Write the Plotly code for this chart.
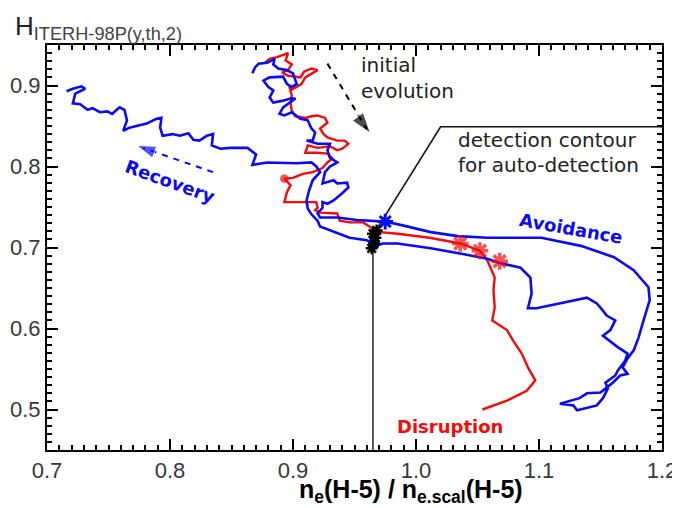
import plotly.graph_objects as go

# blue trajectory ("Avoidance" then "Recovery")
blue_x = [0.867, 0.869, 0.872, 0.879, 0.885, 0.884, 0.888, 0.895, 0.900, 0.903, 0.899, 0.895, 0.892, 0.881,
          0.876, 0.880, 0.884, 0.881, 0.884, 0.891, 0.898, 0.902, 0.892, 0.889, 0.893, 0.899, 0.906, 0.912,
          0.915, 0.918, 0.916, 0.911, 0.920, 0.930, 0.928, 0.930, 0.936, 0.930, 0.926, 0.924, 0.933, 0.936,
          0.944, 0.945, 0.940, 0.933, 0.928, 0.924, 0.924, 0.920, 0.922, 0.936, 0.952, 0.975, 0.990, 1.012,
          1.034, 1.058, 1.102, 1.134, 1.161, 1.177, 1.189, 1.190, 1.185, 1.181, 1.177, 1.172, 1.168, 1.172,
          1.166, 1.160, 1.155, 1.150, 1.139, 1.133, 1.117, 1.128, 1.131, 1.139, 1.147, 1.152, 1.156, 1.154,
          1.162, 1.164, 1.170, 1.172, 1.164, 1.152, 1.158, 1.162, 1.155, 1.152, 1.147, 1.139, 1.120, 1.098,
          1.091, 1.094, 1.093, 1.085, 1.068, 1.058, 1.038, 1.012, 0.985, 0.973, 0.969, 0.960, 0.946, 0.938,
          0.930, 0.922, 0.920, 0.915, 0.912, 0.911, 0.913, 0.916, 0.922, 0.919, 0.915, 0.903, 0.879, 0.867,
          0.870, 0.863, 0.849, 0.841, 0.834, 0.835, 0.830, 0.824, 0.819, 0.815, 0.808, 0.802, 0.794, 0.792,
          0.793, 0.789, 0.781, 0.776, 0.767, 0.762, 0.765, 0.763, 0.759, 0.753, 0.749, 0.743, 0.737, 0.733,
          0.727, 0.721, 0.723, 0.731, 0.728, 0.721, 0.716]
blue_y = [0.915, 0.922, 0.927, 0.928, 0.933, 0.926, 0.921, 0.919, 0.915, 0.902, 0.898, 0.902, 0.911, 0.910,
          0.906, 0.898, 0.894, 0.885, 0.879, 0.881, 0.884, 0.884, 0.873, 0.865, 0.863, 0.867, 0.859, 0.857,
          0.847, 0.842, 0.832, 0.832, 0.828, 0.828, 0.820, 0.811, 0.805, 0.800, 0.793, 0.779, 0.783, 0.779,
          0.780, 0.774, 0.767, 0.758, 0.754, 0.756, 0.749, 0.742, 0.737, 0.737, 0.734, 0.732, 0.727, 0.719,
          0.714, 0.712, 0.712, 0.702, 0.688, 0.672, 0.651, 0.635, 0.610, 0.589, 0.573, 0.563, 0.552, 0.544,
          0.542, 0.533, 0.527, 0.521, 0.520, 0.514, 0.507, 0.505, 0.499, 0.502, 0.505, 0.514, 0.526, 0.533,
          0.542, 0.548, 0.560, 0.569, 0.577, 0.591, 0.598, 0.610, 0.616, 0.622, 0.631, 0.638, 0.632, 0.625,
          0.625, 0.643, 0.663, 0.675, 0.681, 0.686, 0.692, 0.699, 0.705, 0.705, 0.703, 0.709, 0.712, 0.717,
          0.721, 0.726, 0.733, 0.741, 0.748, 0.758, 0.770, 0.783, 0.793, 0.800, 0.805, 0.804, 0.805, 0.802,
          0.815, 0.823, 0.823, 0.822, 0.826, 0.840, 0.838, 0.832, 0.833, 0.841, 0.838, 0.840, 0.838, 0.848,
          0.860, 0.859, 0.853, 0.851, 0.848, 0.844, 0.857, 0.870, 0.873, 0.865, 0.868, 0.867, 0.872, 0.870,
          0.877, 0.878, 0.890, 0.896, 0.899, 0.896, 0.893]

# red trajectory ("Disruption")
red_x = [0.877, 0.881, 0.887, 0.892, 0.896, 0.894, 0.899, 0.896, 0.891, 0.896, 0.906, 0.909, 0.915, 0.920,
         0.915, 0.910, 0.907, 0.902, 0.898, 0.897, 0.899, 0.898, 0.899, 0.902, 0.910, 0.915, 0.920, 0.926,
         0.928, 0.922, 0.925, 0.928, 0.936, 0.942, 0.945, 0.940, 0.936, 0.930, 0.920, 0.912, 0.910, 0.920,
         0.928, 0.932, 0.928, 0.924, 0.916, 0.908, 0.900, 0.893, 0.898, 0.895, 0.893, 0.906, 0.919, 0.920,
         0.918, 0.922, 0.936, 0.938, 0.946, 0.957, 0.963, 0.971, 0.985, 1.011, 1.036, 1.052, 1.058, 1.064,
         1.063, 1.064, 1.062, 1.074, 1.079, 1.086, 1.091, 1.097, 1.090, 1.074, 1.054]
red_y = [0.928, 0.933, 0.935, 0.938, 0.940, 0.931, 0.926, 0.919, 0.916, 0.912, 0.910, 0.917, 0.921, 0.919,
         0.915, 0.910, 0.902, 0.898, 0.894, 0.899, 0.888, 0.878, 0.869, 0.862, 0.860, 0.862, 0.863, 0.860,
         0.854, 0.847, 0.840, 0.836, 0.832, 0.832, 0.828, 0.822, 0.820, 0.825, 0.823, 0.826, 0.817, 0.817,
         0.816, 0.810, 0.805, 0.798, 0.793, 0.791, 0.786, 0.785, 0.777, 0.768, 0.756, 0.756, 0.756, 0.749,
         0.746, 0.743, 0.742, 0.733, 0.731, 0.731, 0.725, 0.719, 0.717, 0.712, 0.705, 0.696, 0.684, 0.663,
         0.647, 0.626, 0.610, 0.598, 0.585, 0.569, 0.552, 0.536, 0.523, 0.511, 0.500]

# detection points
red_star_x = [1.036, 1.052, 1.068, 0.893]
red_star_y = [0.705, 0.696, 0.683, 0.785]
red_star_size = [14, 14, 14, 7]
blue_star_x = [0.975]
blue_star_y = [0.732]
black_star_x = [0.965, 0.968, 0.967, 0.966, 0.964]
black_star_y = [0.717, 0.721, 0.712, 0.705, 0.699]

# detection contour
contour_x = [0.965, 0.965]
contour_y = [0.699, 0.45]
pointer_x = [0.967, 1.020, 1.2]
pointer_y = [0.720, 0.849, 0.849]

BLUE = "#0a0af5"
RED = "#f50a0a"
FONT = "Liberation Sans, Arial, sans-serif"
LABEL_FONT = "DejaVu Sans, sans-serif"

fig = go.Figure()
fig.add_trace(go.Scatter(x=contour_x, y=contour_y, mode="lines", line=dict(color="#222", width=1.5)))
fig.add_trace(go.Scatter(x=pointer_x, y=pointer_y, mode="lines", line=dict(color="#111", width=1.6)))
fig.add_trace(go.Scatter(x=red_x, y=red_y, mode="lines", line=dict(color=RED, width=2.4)))
fig.add_trace(go.Scatter(x=blue_x, y=blue_y, mode="lines", line=dict(color=BLUE, width=2.6)))
fig.add_trace(go.Scatter(x=red_star_x, y=red_star_y, mode="markers",
                         marker=dict(symbol="asterisk-open", size=red_star_size, color=RED,
                                     line=dict(color=RED, width=3.5))))
fig.add_trace(go.Scatter(x=blue_star_x, y=blue_star_y, mode="markers",
                         marker=dict(symbol="asterisk-open", size=13, color=BLUE,
                                     line=dict(color=BLUE, width=3))))
fig.add_trace(go.Scatter(x=black_star_x, y=black_star_y, mode="markers",
                         marker=dict(symbol="asterisk-open", size=10, color="black",
                                     line=dict(color="black", width=2.5))))

# dashed arrows
fig.add_trace(go.Scatter(x=[0.928, 0.960], y=[0.927, 0.846], mode="lines",
                         line=dict(color="black", width=2, dash="6px,6px")))
fig.add_trace(go.Scatter(x=[0.958, 0.963], y=[0.851, 0.841], mode="markers",
                         marker=dict(symbol="arrow", size=[0, 22], angleref="previous", color="black")))
fig.add_trace(go.Scatter(x=[0.835, 0.778], y=[0.793, 0.823], mode="lines",
                         line=dict(color=BLUE, width=2, dash="6px,6px")))
fig.add_trace(go.Scatter(x=[0.780, 0.773], y=[0.822, 0.826], mode="markers",
                         marker=dict(symbol="arrow", size=[0, 20], angleref="previous", color=BLUE)))

annos = [
    dict(x=-0.0553, y=1.043, xanchor="left", yanchor="middle",
         text="H<sub><span style='color:#444'>ITERH-98P(y,th,2)</span></sub>",
         font=dict(size=26, color="#222", family=FONT)),
    dict(x=0.592, y=-0.101, xanchor="center", yanchor="middle",
         text="<b>n<sub>e</sub>(H-5) / n<sub>e.scal</sub>(H-5)</b>", font=dict(size=25, color="black", family=FONT)),
    dict(x=0.507, y=0.951, xanchor="left", yanchor="middle", text="initial",
         font=dict(size=20, color="#222", family=LABEL_FONT)),
    dict(x=0.507, y=0.886, xanchor="left", yanchor="middle", text="evolution",
         font=dict(size=20, color="#222", family=LABEL_FONT)),
    dict(x=0.665, y=0.765, xanchor="left", yanchor="middle", text="detection contour",
         font=dict(size=20, color="#222", family=LABEL_FONT)),
    dict(x=0.665, y=0.704, xanchor="left", yanchor="middle", text="for auto-detection",
         font=dict(size=20, color="#222", family=LABEL_FONT)),
    dict(x=0.200, y=0.662, xanchor="center", yanchor="middle", textangle=20, text="<b>Recovery</b>",
         font=dict(size=18, color=BLUE, family=LABEL_FONT)),
    dict(x=0.852, y=0.548, xanchor="center", yanchor="middle", textangle=10, text="<b>Avoidance</b>",
         font=dict(size=18, color=BLUE, family=LABEL_FONT)),
    dict(x=0.655, y=0.057, xanchor="center", yanchor="middle", text="<b>Disruption</b>",
         font=dict(size=18, color=RED, family=LABEL_FONT)),
]
for a in annos:
    a.update(xref="paper", yref="paper", showarrow=False)
    fig.add_annotation(**a)

axis_common = dict(showline=True, linecolor="black", linewidth=2, mirror="ticks", ticks="inside",
                   ticklen=11, tickwidth=2, tickcolor="black", showgrid=False, zeroline=False,
                   automargin=False, tickfont=dict(size=22, color="#383838", family=FONT),
                   minor=dict(ticks="inside", ticklen=5, tickwidth=1.5, tickcolor="black", dtick=0.01))
fig.update_xaxes(range=[0.7, 1.2], tickvals=[0.7, 0.8, 0.9, 1.0, 1.1, 1.2],
                 ticktext=["0.7", "0.8", "0.9", "1.0", "1.1", "1.2"], **axis_common)
fig.update_yaxes(range=[0.45, 0.95], tickvals=[0.5, 0.6, 0.7, 0.8, 0.9],
                 ticktext=["0.5", "0.6", "0.7", "0.8", "0.9"], **axis_common)
# the page adds an 8px body margin, so the figure is 8px smaller and its margins shifted
fig.update_layout(width=672, height=500, showlegend=False, plot_bgcolor="white", paper_bgcolor="white",
                  margin=dict(l=39, r=18, t=37, b=58), font=dict(family=FONT))
fig.write_html("out.html")
